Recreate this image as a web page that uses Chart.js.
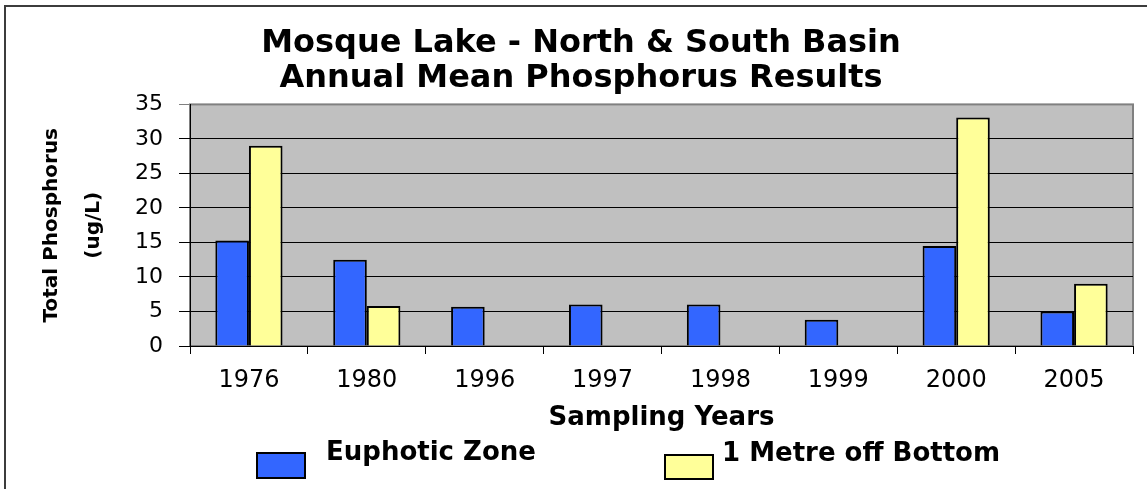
<!DOCTYPE html>
<html>
<head>
<meta charset="utf-8">
<title>Mosque Lake - Annual Mean Phosphorus</title>
<script src="https://cdn.jsdelivr.net/npm/chart.js@4.4.1/dist/chart.umd.min.js"></script>
<style>
  html, body { margin: 0; padding: 0; background: #fff; overflow: hidden; }
  #frame {
    position: absolute; left: 4px; top: 5px;
    width: 1200px; height: 600px;
    border-left: 2px solid #3c3c3c; border-top: 2px solid #3c3c3c;
  }
  #wrap { position: absolute; left: 0; top: 0; width: 1147px; height: 489px; }
</style>
</head>
<body>
<div id="frame"></div>
<div id="wrap"><canvas id="chart"></canvas></div>
<script>
// data
const years = ['1976', '1980', '1996', '1997', '1998', '1999', '2000', '2005'];
const euphoticZone = [15.3, 12.5, 5.7, 6.0, 6.0, 3.8, 14.5, 5.0];
const offBottom = [29.0, 5.8, null, null, null, null, 33.1, 9.0];
const titleLines = ['Mosque Lake - North & South Basin', 'Annual Mean Phosphorus Results'];
const yTitleLines = ['Total Phosphorus', '(ug/L)'];
const xTitle = 'Sampling Years';

Chart.defaults.font.family = "'DejaVu Sans', sans-serif";
Chart.defaults.color = '#000';

// grey plot area with darker grey frame (Excel style)
const plotBackground = {
  id: 'plotBackground',
  beforeDraw(chart) {
    const { ctx, chartArea: a } = chart;
    ctx.save();
    ctx.fillStyle = '#c0c0c0';
    ctx.fillRect(a.left, a.top, a.right - a.left, a.bottom - a.top);
    ctx.strokeStyle = '#808080';
    ctx.lineWidth = 2;
    ctx.strokeRect(a.left, a.top, a.right - a.left, a.bottom - a.top);
    ctx.restore();
  }
};

// legend at the bottom, drawn by hand to get the box/text offset of the original
const bottomLegend = {
  id: 'bottomLegend',
  afterDraw(chart) {
    const { ctx } = chart;
    const items = [
      { box: [257, 453, 48, 25], textX: 326, textY: 460 },
      { box: [665, 455, 48, 24], textX: 722, textY: 461 }
    ];
    ctx.save();
    chart.data.datasets.forEach((ds, i) => {
      const it = items[i];
      const [x, y, w, h] = it.box;
      ctx.fillStyle = ds.backgroundColor;
      ctx.fillRect(x, y, w, h);
      ctx.strokeStyle = '#000';
      ctx.lineWidth = 2;
      ctx.strokeRect(x, y, w, h);
      ctx.fillStyle = '#000';
      ctx.font = "bold 26px 'DejaVu Sans', sans-serif";
      ctx.textBaseline = 'alphabetic';
      ctx.textAlign = 'left';
      ctx.fillText(ds.label, it.textX, it.textY);
    });
    ctx.restore();
  }
};

const ctx = document.getElementById('chart').getContext('2d');
new Chart(ctx, {
  type: 'bar',
  data: {
    labels: years,
    datasets: [
      {
        label: 'Euphotic Zone',
        data: euphoticZone,
        backgroundColor: '#3366ff',
        borderColor: '#000',
        borderWidth: 2,
        categoryPercentage: 0.57,
        barPercentage: 1.0
      },
      {
        label: '1 Metre off Bottom',
        data: offBottom,
        backgroundColor: '#ffff99',
        borderColor: '#000',
        borderWidth: 2,
        categoryPercentage: 0.57,
        barPercentage: 1.0
      }
    ]
  },
  options: {
    responsive: true,
    maintainAspectRatio: false,
    animation: false,
    layout: {
      padding: { left: 29, right: 14, top: 0, bottom: 55 }
    },
    plugins: {
      legend: { display: false },
      tooltip: { enabled: false },
      title: {
        display: true,
        text: titleLines,
        font: { size: 32, weight: 'bold', lineHeight: 1.1 },
        color: '#000',
        padding: { top: 26, bottom: 8 }
      }
    },
    scales: {
      x: {
        offset: true,
        afterFit: (scale) => { scale.height = 88; },
        border: { display: true, color: '#000', width: 1 },
        grid: {
          display: true,
          offset: true,
          drawOnChartArea: false,
          drawTicks: true,
          tickLength: 8,
          color: '#000'
        },
        ticks: {
          font: { size: 24 },
          color: '#000',
          padding: 12,
          maxRotation: 0
        },
        title: {
          display: true,
          text: xTitle,
          font: { size: 26, weight: 'bold', lineHeight: 1.2 },
          color: '#000',
          padding: { top: 0, bottom: 0 }
        }
      },
      y: {
        min: 0,
        max: 35,
        afterFit: (scale) => { scale.width = 161; },
        border: { display: true, color: '#000', width: 1 },
        grid: {
          color: (c) => (c.tick && c.tick.value === 35 ? '#808080' : '#000'),
          lineWidth: 1,
          drawTicks: true,
          tickLength: 11
        },
        ticks: {
          stepSize: 5,
          font: { size: 22 },
          color: '#000',
          padding: 16
        },
        title: {
          display: true,
          text: yTitleLines,
          font: { size: 20, weight: 'bold', lineHeight: 2.1 },
          color: '#000',
          padding: { top: 2, bottom: 0 }
        }
      }
    }
  },
  plugins: [plotBackground, bottomLegend]
});
</script>
</body>
</html>
